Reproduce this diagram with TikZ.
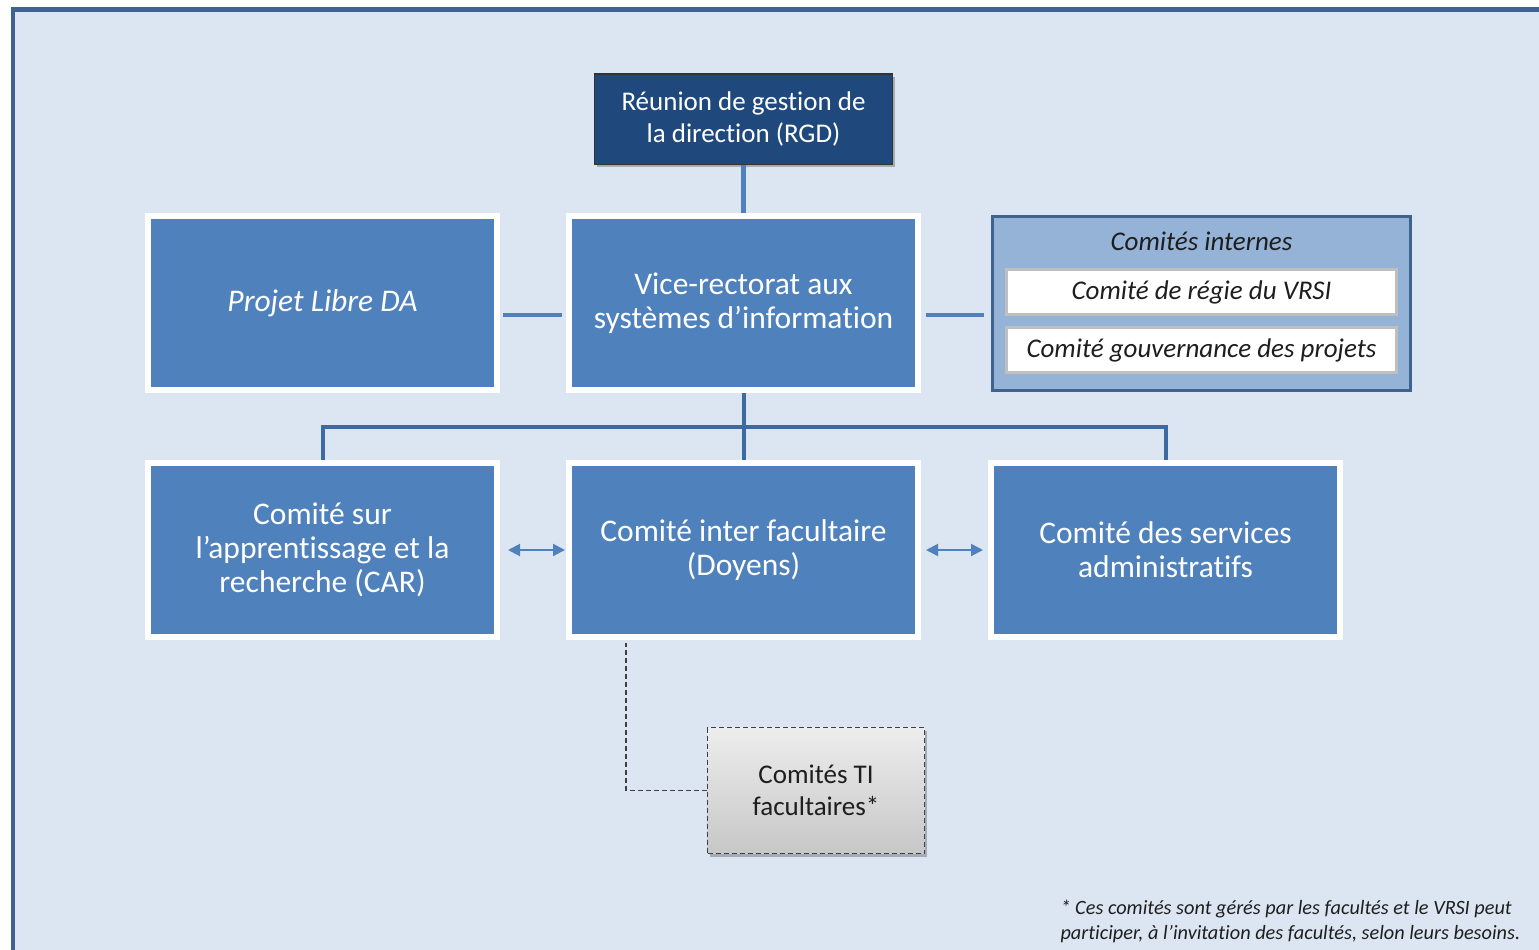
\documentclass[tikz,border=0pt]{standalone}
\usepackage{fontspec}
\setmainfont[Ligatures=NoCommon]{Carlito}
\usetikzlibrary{arrows.meta,positioning,shadows}

\definecolor{fond}{HTML}{DCE6F2}
\definecolor{cadre}{HTML}{3F6391}
\definecolor{bleu}{HTML}{4F81BD}
\definecolor{bleufonce}{HTML}{1F497D}
\definecolor{bleuclair}{HTML}{95B3D7}
\definecolor{bus}{HTML}{3D69A5}
\definecolor{texte}{HTML}{1E1E1E}

\begin{document}
\begin{tikzpicture}[x=1pt,y=-1pt,
	ombre/.style={drop shadow={shadow xshift=2pt,shadow yshift=-3pt,fill=black,opacity=.25}},
	unite/.style={draw=white,line width=6pt,fill=bleu,minimum width=349pt,minimum height=174pt,
		inner sep=0pt,text=white,align=center,font=\fontsize{31.5}{34}\selectfont,ombre},
	direction/.style={draw=black!80,line width=1.5pt,fill=bleufonce,minimum width=298pt,minimum height=90pt,
		inner sep=0pt,text=white,align=center,font=\fontsize{27}{32}\selectfont,ombre},
	groupe/.style={draw=cadre,line width=3pt,fill=bleuclair,minimum width=418pt,minimum height=174pt,inner sep=0pt},
	comite/.style={draw=black!25,line width=3pt,fill=white,minimum width=390pt,minimum height=45pt,
		inner sep=0pt,text=texte,font=\fontsize{27}{28}\selectfont\itshape},
	tiboite/.style={draw=black!75,dash pattern=on 5pt off 3pt,line width=1.4pt,top color=black!7,bottom color=black!22,
		minimum width=217pt,minimum height=126pt,inner sep=0pt,text=texte,align=center,
		font=\fontsize{27}{32}\selectfont,ombre},
	lien/.style={draw=bleu,line width=4pt},
	barre/.style={draw=bus,line width=4pt},
	echange/.style={draw=bleu,line width=2pt,{Triangle[length=12pt,width=12pt]}-{Triangle[length=12pt,width=12pt]}},
	tirets/.style={draw=black!75,dash pattern=on 5pt off 3pt,line width=1.4pt}]

	\useasboundingbox (0,0) rectangle (1539,950);
	\draw[cadre,line width=4.5pt,fill=fond] (12.8,9.7) rectangle (1600,1010);

	\node[unite] (vr) at (743.5,303) {Vice-rectorat aux\\syst\`emes d’information};
	\node[unite,left=66pt of vr] (projet) {\itshape Projet Libre DA};
	\node[direction,above=48pt of vr] (rgd) {R\'eunion de gestion de\\la direction (RGD)};
	\node[groupe,right=70pt of vr] (cint) {};
	\node[text=texte,font=\fontsize{27}{28}\selectfont\itshape] (titre) at (1201.5,241) {Comit\'es internes};
	\node[comite] (regie) at (1201.5,292) {Comit\'e de r\'egie du VRSI};
	\node[comite,below=10pt of regie] (gouv) {Comit\'e gouvernance des projets};

	\node[unite,below=67pt of vr] (inter) {Comit\'e inter facultaire\\(Doyens)};
	\node[unite,below=67pt of projet] (car) {Comit\'e sur\\l’apprentissage et la\\recherche (CAR)};
	\node[unite,right=67pt of inter] (admin) {Comit\'e des services\\administratifs};
	\node[tiboite] (ti) at (816,790.5) {Comit\'es TI\\facultaires*};

	\coordinate (noeud) at (743.5,427);

	\draw[lien,line width=5pt] (rgd.south) -- (vr.north);
	\draw[lien,shorten <=3pt,shorten >=4pt] ([yshift=-12pt]projet.east) -- ([yshift=-12pt]vr.west);
	\draw[lien,shorten <=5pt,shorten >=7pt] ([yshift=-12pt]vr.east) -- ([yshift=-12pt]vr.east -| cint.west);
	\draw[barre] (vr.south) -- (inter.north);
	\draw[barre] (car.north) |- (noeud) -| (admin.north);
	\draw[echange,shorten <=8pt,shorten >=1pt] (car.east) -- (inter.west);
	\draw[echange,shorten <=5pt,shorten >=5pt] (inter.east) -- (admin.west);
	\draw[tirets] (ti.west) -| ([xshift=-117.5pt,yshift=-3pt]inter.south);

	\node[anchor=west,align=left,text=texte,font=\fontsize{20.3}{25}\selectfont\itshape] (note) at (1057,921.5)
		{* Ces comit\'es sont g\'er\'es par les facult\'es et le VRSI peut\\participer, \`a l’invitation des facult\'es, selon leurs besoins.};
\end{tikzpicture}
\end{document}
